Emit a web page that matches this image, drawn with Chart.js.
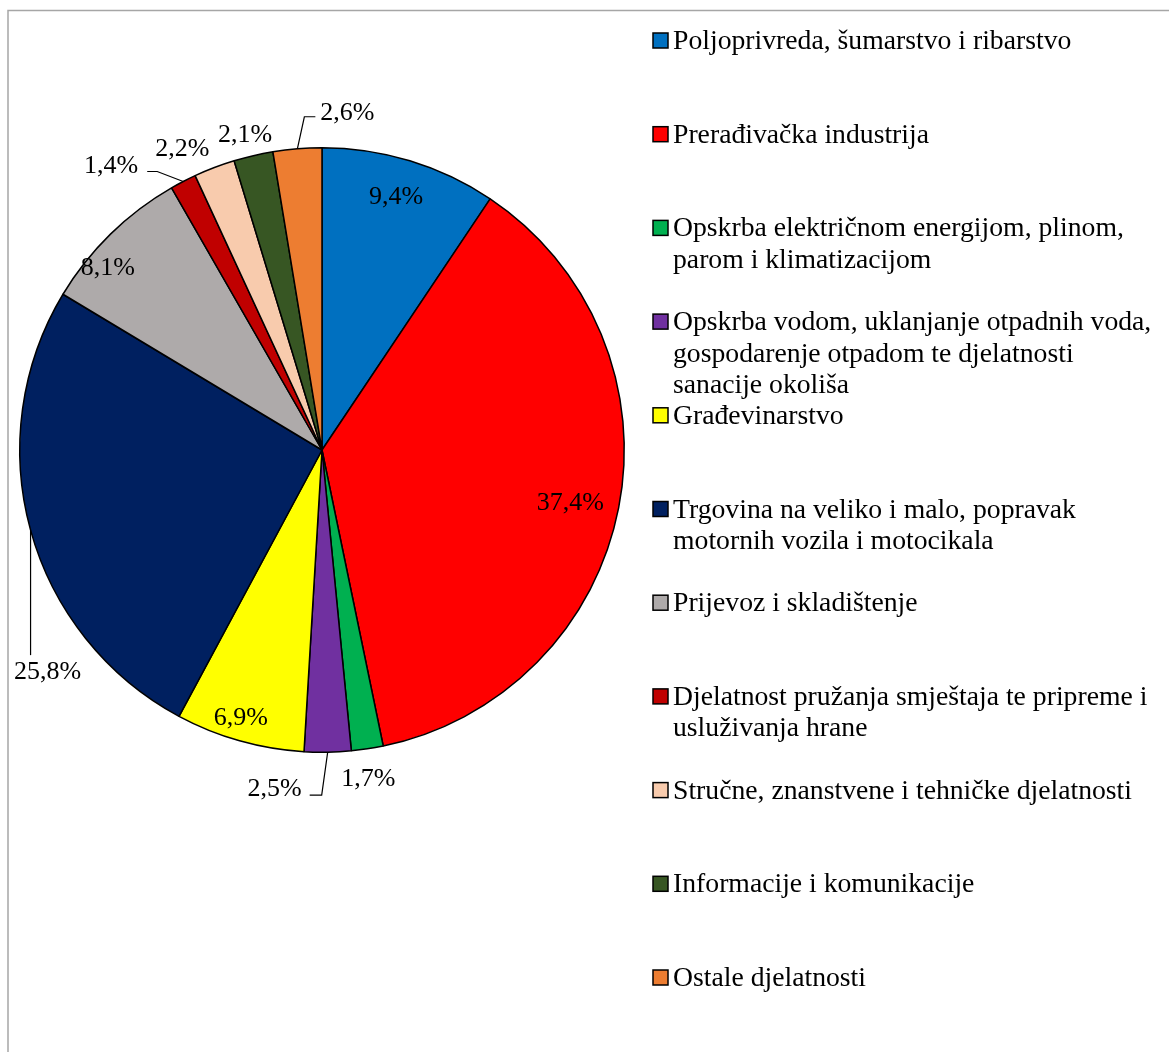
<!DOCTYPE html>
<html>
<head>
<meta charset="utf-8">
<script src="https://cdn.jsdelivr.net/npm/chart.js@4"></script>
<style>
	body { margin: 0; background: #fff; }
	canvas { display: block; }
</style>
</head>
<body>
<canvas id="pie" width="1169" height="1052"></canvas>
<script>
// categories (legend text, already wrapped as in the original)
const categories = [
	['Poljoprivreda, šumarstvo i ribarstvo'],
	['Prerađivačka industrija'],
	['Opskrba električnom energijom, plinom,', 'parom i klimatizacijom'],
	['Opskrba vodom, uklanjanje otpadnih voda,', 'gospodarenje otpadom te djelatnosti', 'sanacije okoliša'],
	['Građevinarstvo'],
	['Trgovina na veliko i malo, popravak', 'motornih vozila i motocikala'],
	['Prijevoz i skladištenje'],
	['Djelatnost pružanja smještaja te pripreme i', 'usluživanja hrane'],
	['Stručne, znanstvene i tehničke djelatnosti'],
	['Informacije i komunikacije'],
	['Ostale djelatnosti']
];
const shares = [9.4, 37.4, 1.7, 2.5, 6.9, 25.8, 8.1, 1.4, 2.2, 2.1, 2.6];
const sliceColors = ['#0070C0', '#FF0000', '#00B050', '#7030A0', '#FFFF00', '#002060',
	'#AEAAAA', '#C00000', '#F8CBAD', '#375623', '#ED7D31'];

// where each value label goes, relative to its slice
// polar: r = fraction of radius, da = degrees off the mid angle
// lead: offset of the knee from the slice edge, stub = horizontal tail
const labelLayout = [
	{ r: 0.873, da: -0.6 },
	{ r: 0.84, da: 1.0 },
	{ r: 1.10, da: 0.6 },
	{ lead: [-6, 43], stub: -12, gap: 8, ty: -6 },
	{ r: 0.927, da: 1.0 },
	{ lead: [0, 125], below: [17, 17] },
	{ r: 0.93, da: -5.2 },
	{ lead: [-26, -10], stub: -10, gap: 9, ty: -5 },
	{ r: 1.096, da: -4.1 },
	{ r: 1.073, da: -0.6 },
	{ lead: [7, -32], stub: 11, gap: 5, ty: -4 }
];

const serif = '"Liberation Serif", "Times New Roman", serif';

function fmt(v) {
	return v.toFixed(1).replace('.', ',') + '%';
}

const frame = {
	id: 'frame',
	beforeDraw: function (chart) {
		const ctx = chart.ctx;
		ctx.save();
		ctx.strokeStyle = '#a6a6a6';
		ctx.lineWidth = 1.5;
		ctx.beginPath();
		ctx.moveTo(8, chart.height);
		ctx.lineTo(8, 10.5);
		ctx.lineTo(chart.width, 10.5);
		ctx.stroke();
		ctx.restore();
	}
};

const pieLabels = {
	id: 'pieLabels',
	afterDatasetsDraw: function (chart) {
		const ctx = chart.ctx;
		const meta = chart.getDatasetMeta(0);
		ctx.save();
		ctx.font = '26px ' + serif;
		ctx.fillStyle = '#000';
		ctx.strokeStyle = '#000';
		ctx.lineWidth = 1.2;
		ctx.textBaseline = 'middle';

		meta.data.forEach(function (arc, i) {
			const p = arc.getProps(['x', 'y', 'startAngle', 'endAngle', 'outerRadius'], true);
			const mid = (p.startAngle + p.endAngle) / 2;
			const R = p.outerRadius;
			const lay = labelLayout[i];
			const txt = fmt(shares[i]);

			if (!lay.lead) {
				const a = mid + lay.da * Math.PI / 180;
				ctx.textAlign = 'center';
				ctx.fillText(txt, p.x + Math.cos(a) * R * lay.r, p.y + Math.sin(a) * R * lay.r);
				return;
			}

			const ex = p.x + Math.cos(mid) * R;
			const ey = p.y + Math.sin(mid) * R;
			const kx = ex + lay.lead[0];
			const ky = ey + lay.lead[1];
			ctx.beginPath();
			ctx.moveTo(ex, ey);
			ctx.lineTo(kx, ky);
			if (lay.stub) {
				ctx.lineTo(kx + lay.stub, ky);
			}
			ctx.stroke();

			if (lay.below) {
				ctx.textAlign = 'center';
				ctx.fillText(txt, kx + lay.below[0], ky + lay.below[1]);
			} else if (lay.stub < 0) {
				ctx.textAlign = 'right';
				ctx.fillText(txt, kx + lay.stub - lay.gap, ky + lay.ty);
			} else {
				ctx.textAlign = 'left';
				ctx.fillText(txt, kx + lay.stub + lay.gap, ky + lay.ty);
			}
		});
		ctx.restore();
	}
};

const sideLegend = {
	id: 'sideLegend',
	afterDraw: function (chart) {
		const ctx = chart.ctx;
		ctx.save();
		ctx.font = '27.7px ' + serif;
		ctx.textAlign = 'left';
		ctx.textBaseline = 'alphabetic';
		categories.forEach(function (lines, i) {
			const base = 49 + 93.7 * i;
			ctx.fillStyle = sliceColors[i];
			ctx.fillRect(653, base - 16, 15, 15);
			ctx.strokeStyle = '#000';
			ctx.lineWidth = 1.5;
			ctx.strokeRect(653, base - 16, 15, 15);
			ctx.fillStyle = '#000';
			lines.forEach(function (line, j) {
				ctx.fillText(line, 673, base + 31.5 * j);
			});
		});
		ctx.restore();
	}
};

new Chart(document.getElementById('pie'), {
	type: 'pie',
	data: {
		labels: categories,
		datasets: [{
			data: shares,
			backgroundColor: sliceColors,
			borderColor: '#000',
			borderWidth: 1.5
		}]
	},
	options: {
		responsive: false,
		animation: false,
		layout: {
			padding: { left: 19, top: 147, right: 544, bottom: 299 }
		},
		plugins: {
			legend: { display: false },
			tooltip: { enabled: false }
		}
	},
	plugins: [frame, pieLabels, sideLegend]
});
</script>
</body>
</html>
